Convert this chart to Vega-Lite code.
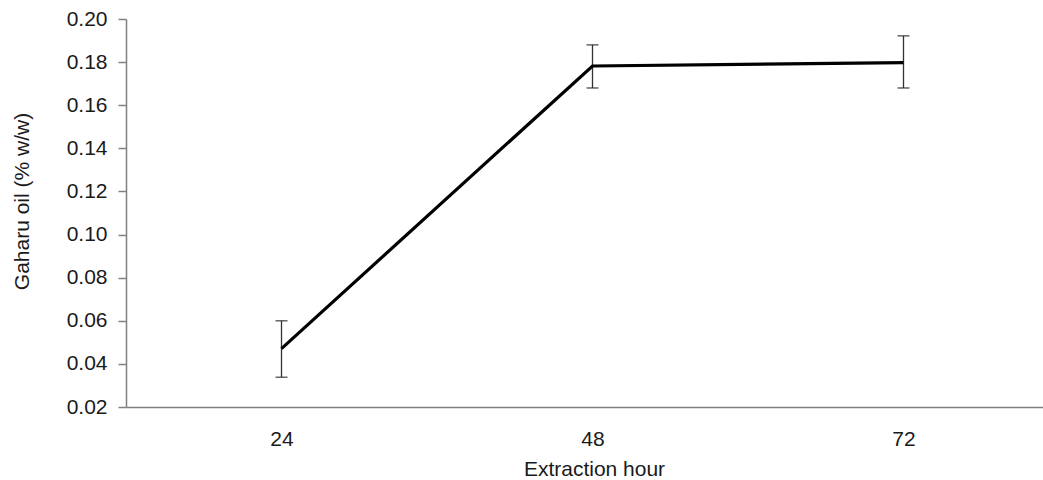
{
  "$schema": "https://vega.github.io/schema/vega-lite/v6.json",
  "autosize": "none",
  "padding": {"left": 126, "top": 19, "right": 0, "bottom": 73},
  "width": 933,
  "height": 388,
  "background": "white",
  "config": {
    "view": {"stroke": null},
    "font": "Liberation Sans"
  },
  "data": {
    "values": [
      {"hour": "24", "mean": 0.0471, "lo": 0.0338, "hi": 0.0600},
      {"hour": "48", "mean": 0.1782, "lo": 0.1680, "hi": 0.1880},
      {"hour": "72", "mean": 0.1798, "lo": 0.1680, "hi": 0.1922}
    ]
  },
  "encoding": {
    "x": {
      "field": "hour",
      "type": "ordinal",
      "scale": {"type": "point", "padding": 0.5},
      "axis": {
        "title": "Extraction hour",
        "labelAngle": 0,
        "ticks": false,
        "tickSize": 0,
        "domainColor": "#808080",
        "domainWidth": 1.5,
        "labelFont": "Liberation Sans",
        "labelFontSize": 21,
        "labelColor": "#1a1a1a",
        "labelBaseline": "alphabetic",
        "labelPadding": 38,
        "titleFont": "Liberation Sans",
        "titleFontSize": 21,
        "titleFontWeight": "normal",
        "titleColor": "#1a1a1a",
        "titleBaseline": "alphabetic",
        "titleY": 68,
        "titleX": 468
      }
    }
  },
  "layer": [
    {
      "mark": {"type": "rule", "color": "#333333", "strokeWidth": 1.3},
      "encoding": {
        "y": {
          "field": "lo",
          "type": "quantitative",
          "scale": {"domain": [0.02, 0.2], "nice": false, "zero": false},
          "axis": {
            "title": "Gaharu oil (% w/w)",
            "values": [0.02, 0.04, 0.06, 0.08, 0.1, 0.12, 0.14, 0.16, 0.18, 0.2],
            "format": ".2f",
            "grid": false,
            "domainColor": "#808080",
            "domainWidth": 1.5,
            "tickColor": "#808080",
            "tickWidth": 1.5,
            "tickSize": 8,
            "labelFont": "Liberation Sans",
            "labelFontSize": 21,
            "labelColor": "#1a1a1a",
            "labelPadding": 11,
            "titleFont": "Liberation Sans",
            "titleFontSize": 21,
            "titleFontWeight": "normal",
            "titleColor": "#1a1a1a",
            "titleBaseline": "alphabetic",
            "titleAlign": "center",
            "titleAngle": -90,
            "titleX": -98,
            "titleY": 182
          }
        },
        "y2": {"field": "hi"}
      }
    },
    {
      "mark": {"type": "tick", "color": "#222222", "size": 12, "thickness": 1.5, "orient": "horizontal"},
      "encoding": {"y": {"field": "lo", "type": "quantitative"}}
    },
    {
      "mark": {"type": "tick", "color": "#222222", "size": 12, "thickness": 1.5, "orient": "horizontal"},
      "encoding": {"y": {"field": "hi", "type": "quantitative"}}
    },
    {
      "mark": {"type": "line", "color": "#000000", "strokeWidth": 3.2},
      "encoding": {"y": {"field": "mean", "type": "quantitative"}}
    }
  ]
}
